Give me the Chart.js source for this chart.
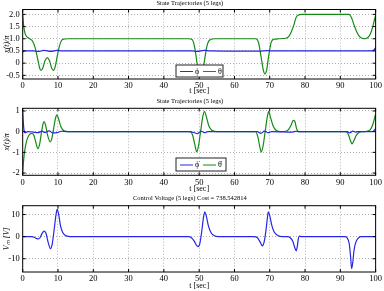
<!DOCTYPE html>
<html>
<head>
<meta charset="utf-8">
<script src="https://cdn.jsdelivr.net/npm/chart.js@4.4.1/dist/chart.umd.min.js"></script>
<style>
  html, body { margin: 0; padding: 0; background: #fff; width: 384px; height: 291px; overflow: hidden; position: relative; }
  canvas { position: absolute; left: 0; }
</style>
</head>
<body>
<canvas id="c1" width="384" height="98" style="top:-2px"></canvas>
<canvas id="c2" width="384" height="99" style="top:95px"></canvas>
<canvas id="c3" width="384" height="98" style="top:193px"></canvas>
<script>
// ---- data ----
const xTicks = [0, 10, 20, 30, 40, 50, 60, 70, 80, 90, 100];
const yTicks1 = [-0.5, 0, 0.5, 1, 1.5, 2];
const yTicks2 = [-2, -1, 0, 1];
const yTicks3 = [-10, 0, 10];

// panel 1 : angles
const phiT = [0, 0.4, 3, 4.5, 6, 8, 9.7, 11, 48, 49.5, 51.5, 53, 67, 69.5, 71, 99, 99.6, 100];
const phiV = [0.45, 0.5, 0.5, 0.48, 0.52, 0.48, 0.52, 0.5, 0.5, 0.48, 0.52, 0.5, 0.49, 0.51, 0.5, 0.5, 0.55, 0.64];

const thetaT = [0, 0.3, 0.7, 1.2, 2.0, 2.8, 3.5, 4.2, 4.8, 5.2, 5.7, 6.3, 7.0, 7.6, 8.2, 8.7, 9.2, 9.8, 10.4, 11.0, 11.8, 13,
  47, 48, 48.8, 49.4, 50.0, 50.5, 51.0, 51.5, 52.2, 53.0, 54.5,
  66, 66.8, 67.5, 68.2, 68.6, 69.1, 69.7, 70.4, 71.2, 72.5,
  74.5, 75.3, 76.0, 76.8, 77.5, 78.2, 79,
  92.5, 93.2, 93.8, 94.6, 95.4, 96.2, 97.0, 97.8, 98.5, 99.2, 99.7, 100];
const thetaV = [2.0, 1.5, 1.2, 1.08, 1.0, 0.9, 0.65, 0.2, -0.2, -0.3, -0.2, 0.1, 0.23, 0.1, -0.2, -0.3, -0.15, 0.3, 0.7, 0.93, 0.99, 1.0,
  1.0, 0.97, 0.6, 0.0, -0.4, -0.47, -0.35, 0.1, 0.7, 0.95, 1.0,
  1.0, 0.85, 0.3, -0.3, -0.45, -0.3, 0.3, 0.85, 0.98, 1.0,
  1.02, 1.08, 1.25, 1.55, 1.88, 1.98, 2.0,
  2.0, 1.85, 1.6, 1.3, 1.1, 1.02, 1.0, 1.05, 1.2, 1.5, 1.8, 1.95];

// panel 2 : rates
const phiDotT = [0, 0.15, 0.35, 0.7, 1.5, 3, 4.3, 5.5, 6.2, 7.5, 8.5, 9.7, 11, 12.5,
  47, 48.5, 49.5, 50.5, 51.5, 52.5, 66.5, 67.5, 68.5, 69.5, 70.5, 76.5, 77.5, 78,
  92, 92.7, 93.5, 94.3, 95, 99, 99.5, 100];
const phiDotV = [1.0, 0.5, 0.1, -0.05, 0.0, -0.02, -0.05, 0.03, -0.04, 0.04, -0.06, -0.05, 0.02, 0,
  0, -0.04, -0.1, 0.03, -0.05, 0, 0, -0.08, 0.03, -0.05, 0, -0.02, 0.02, 0,
  0, -0.06, 0.03, -0.02, 0, 0, 0.05, 0.15];

const thetaDotT = [0, 0.2, 0.5, 0.9, 1.4, 2.0, 2.6, 3.1, 3.7, 4.3, 4.8, 5.3, 5.8, 6.1, 6.5, 7.1, 7.8, 8.3, 8.8, 9.3, 9.7, 10.2, 10.8, 11.5, 12.5, 13.5,
  47.5, 48.2, 48.8, 49.3, 49.8, 50.4, 51.0, 51.5, 52.0, 52.7, 53.5, 54.5, 55.5,
  66, 66.7, 67.2, 67.6, 68.1, 68.7, 69.3, 69.7, 70.2, 70.9, 71.8, 73,
  74.5, 75.3, 76.0, 76.7, 77.1, 77.6, 78.0, 78.5,
  91.5, 92.2, 92.8, 93.3, 93.8, 94.5, 95.3, 96.3, 97.5, 98.5, 99.2, 99.7, 100];
const thetaDotV = [-2.0, -1.5, -1.0, -0.6, -0.3, -0.12, -0.08, -0.15, -0.5, -0.82, -0.6, -0.05, 0.4, 0.49, 0.3, -0.2, -0.49, -0.3, 0.2, 0.65, 0.81, 0.6, 0.25, 0.07, 0.01, 0,
  0, -0.2, -0.65, -0.98, -0.7, 0.0, 0.7, 0.98, 0.75, 0.3, 0.08, 0.01, 0,
  0, -0.3, -0.75, -0.98, -0.7, 0.0, 0.7, 0.98, 0.7, 0.3, 0.07, 0,
  0.02, 0.1, 0.3, 0.55, 0.5, 0.15, 0.02, 0,
  0, -0.1, -0.4, -0.59, -0.45, -0.18, -0.04, 0, 0.02, 0.1, 0.35, 0.65, 0.85];

// panel 3 : control voltage
const voltT = [0, 2.5, 3.3, 4.0, 4.4, 4.9, 5.5, 6.1, 6.6, 7.2, 7.9, 8.4, 8.9, 9.4, 9.75, 10.2, 10.7, 11.3, 12, 13, 14,
  47, 47.8, 48.6, 49.2, 49.7, 50.2, 50.7, 51.2, 51.6, 52.0, 52.6, 53.3, 54.2, 55.5,
  65.5, 66.5, 67.3, 67.9, 68.4, 68.9, 69.3, 69.6, 70.0, 70.6, 71.3, 72.3, 73.5,
  75, 75.8, 76.5, 77.1, 77.5, 77.8, 78.1, 78.4, 79,
  91.3, 91.9, 92.5, 92.9, 93.2, 93.5, 93.9, 94.4, 95.0, 95.8, 100];
const voltV = [0, 0, -0.3, -0.9, -1.0, -0.5, 1.5, 2.5, 1.5, -2.5, -5.4, -3, 3, 9.5, 12.3, 10, 5, 2, 0.6, 0.1, 0,
  0, -0.5, -2, -3.8, -4.5, -3, 2, 8.5, 11.2, 9.5, 5, 2, 0.5, 0,
  0, -0.5, -2.5, -4.2, -2.5, 2.5, 8, 11.2, 9.5, 5, 2, 0.5, 0,
  0, -0.5, -2, -5, -6.4, -4.5, -1, 0.2, 0,
  0, -0.5, -3, -9, -14.5, -12, -6, -2.5, -0.8, 0, 0];

const BLUE = '#2626e6';
const GREEN = '#158a15';
const FONT = "'Liberation Serif', 'Times New Roman', serif";

function pts(t, v) { return t.map((x, i) => ({ x: x, y: v[i] })); }

// plot frame, inward ticks and boxed legend (MATLAB look)
const framePlugin = {
  id: 'frame',
  afterDraw(chart, args, opts) {
    const { ctx, chartArea: a, scales } = chart;
    ctx.save();
    ctx.strokeStyle = '#000';
    ctx.lineWidth = 1;
    ctx.strokeRect(a.left, a.top, a.right - a.left, a.bottom - a.top);
    ctx.beginPath();
    scales.x.ticks.forEach(t => {
      const px = scales.x.getPixelForValue(t.value);
      ctx.moveTo(px, a.bottom); ctx.lineTo(px, a.bottom - 3);
      ctx.moveTo(px, a.top); ctx.lineTo(px, a.top + 3);
    });
    scales.y.ticks.forEach(t => {
      const py = scales.y.getPixelForValue(t.value);
      ctx.moveTo(a.left, py); ctx.lineTo(a.left + 3, py);
      ctx.moveTo(a.right, py); ctx.lineTo(a.right - 3, py);
    });
    ctx.stroke();
    const L = opts.legend;
    if (L) {
      ctx.fillStyle = '#fff';
      ctx.fillRect(L.x, L.y, L.w, L.h);
      ctx.strokeStyle = '#222';
      ctx.strokeRect(L.x, L.y, L.w, L.h);
      const cy = L.y + L.h / 2 + 0.5;
      ctx.font = '8px ' + FONT;
      ctx.textBaseline = 'middle';
      chart.data.datasets.forEach((ds, i) => {
        const x0 = L.x + 4 + i * 23;
        ctx.strokeStyle = ds.borderColor;
        ctx.beginPath(); ctx.moveTo(x0, cy); ctx.lineTo(x0 + 13, cy); ctx.stroke();
        ctx.fillStyle = '#000';
        ctx.fillText(ds.label, x0 + 15, cy);
      });
    }
    ctx.restore();
  }
};

function makePanel(id, p) {
  const lh = p.titleSize * 1.2;
  const padTop = p.titleY - p.top - lh / 2;
  const padBottom = p.plotTop - p.top - lh - padTop;
  const tickFont = { family: FONT, size: 8.5 };
  return new Chart(document.getElementById(id), {
    type: 'line',
    data: {
      datasets: p.series.map(s => ({
        label: s.label, data: pts(s.t, s.v), borderColor: s.color,
        borderWidth: 1.2, pointRadius: 0, cubicInterpolationMode: 'monotone', fill: false
      }))
    },
    plugins: [framePlugin],
    options: {
      responsive: false, animation: false,
      layout: { padding: { left: 2, right: 6.3, top: 0, bottom: 0 } },
      plugins: {
        legend: { display: false }, tooltip: { enabled: false },
        title: {
          display: true, text: p.title, color: '#000',
          font: { family: FONT, size: p.titleSize, weight: 'normal' },
          padding: { top: padTop, bottom: padBottom }
        },
        frame: { legend: p.legend }
      },
      scales: {
        x: {
          type: 'linear', min: 0, max: 100,
          afterBuildTicks: s => { s.ticks = xTicks.map(v => ({ value: v })); },
          afterFit: s => { s.height = p.top + p.height - p.plotBottom; },
          ticks: { font: tickFont, color: '#000', padding: 2, maxRotation: 0 },
          grid: { color: 'rgba(0,0,0,0.3)', drawTicks: false },
          border: { display: false, dash: [1, 2] },
          title: { display: true, text: 't [sec]', color: '#000', font: { family: FONT, size: 8 }, padding: 0 }
        },
        y: {
          min: p.yMin, max: p.yMax,
          afterBuildTicks: s => { s.ticks = p.yTicks.map(v => ({ value: v })); },
          afterFit: s => { s.width = 20.7; },
          ticks: { font: tickFont, color: '#000', padding: 3 },
          grid: { color: 'rgba(0,0,0,0.3)', drawTicks: false },
          border: { display: false, dash: [1, 2] },
          title: { display: true, text: p.yTitle, color: '#000', font: { family: FONT, size: 8, style: 'italic' }, padding: { top: 0.5, bottom: 0 } }
        }
      }
    }
  });
}

makePanel('c1', {
  top: -2, height: 98, titleY: 2.8, plotTop: 9.5, plotBottom: 79, titleSize: 6.5,
  title: 'State Trajectories (5 legs)', yTitle: 'x(t)/π',
  yMin: -0.65, yMax: 2.2, yTicks: yTicks1,
  legend: { x: 176, y: 67, w: 47, h: 12 },
  series: [
    { label: 'ϕ', t: phiT, v: phiV, color: BLUE },
    { label: 'θ', t: thetaT, v: thetaV, color: GREEN }
  ]
});

makePanel('c2', {
  top: 95, height: 99, titleY: 101, plotTop: 108.3, plotBottom: 175.3, titleSize: 6.5,
  title: 'State Trajectories (5 legs)', yTitle: 'x(t)/π',
  yMin: -2.11, yMax: 1.13, yTicks: yTicks2,
  legend: { x: 176, y: 63, w: 50, h: 13 },
  series: [
    { label: 'ϕ̇', t: phiDotT, v: phiDotV, color: BLUE },
    { label: 'θ̇', t: thetaDotT, v: thetaDotV, color: GREEN }
  ]
});

makePanel('c3', {
  top: 193, height: 98, titleY: 198, plotTop: 205.7, plotBottom: 272, titleSize: 6.5,
  title: 'Control Voltage (5 legs) Cost = 738.542814', yTitle: 'Vₘ [V]',
  yMin: -16, yMax: 14, yTicks: yTicks3,
  legend: null,
  series: [
    { label: 'V', t: voltT, v: voltV, color: BLUE }
  ]
});
</script>
</body>
</html>
